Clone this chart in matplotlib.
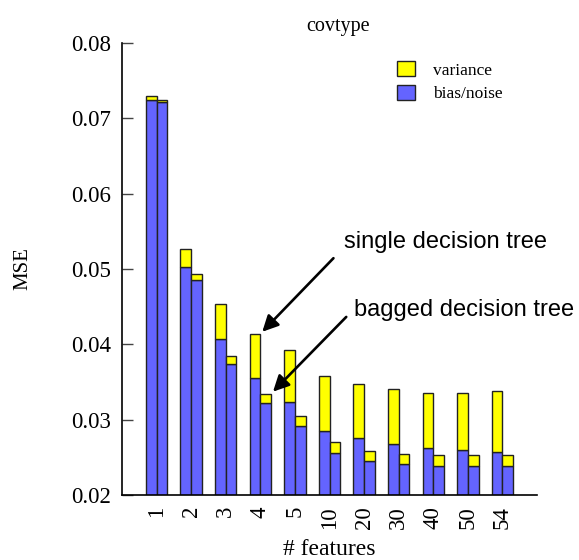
import numpy as np
import matplotlib
matplotlib.use("Agg")
import matplotlib.pyplot as plt
from matplotlib.patches import Patch

# covtype: bias/variance split of MSE vs. number of features
features = ["1", "2", "3", "4", "5", "10", "20", "30", "40", "50", "54"]

single_bias = [0.0725, 0.0502, 0.0407, 0.0355, 0.0324, 0.0285, 0.0275, 0.0268, 0.0262, 0.0260, 0.0257]
single_var = [0.0005, 0.0024, 0.0047, 0.0059, 0.0068, 0.0073, 0.0072, 0.0073, 0.0074, 0.0076, 0.0081]

bagged_bias = [0.0722, 0.0485, 0.03735, 0.0322, 0.0291, 0.0256, 0.0245, 0.0241, 0.0239, 0.0238, 0.0238]
bagged_var = [0.0002, 0.0008, 0.00115, 0.00125, 0.0014, 0.0015, 0.0014, 0.0014, 0.00145, 0.0015, 0.0015]

blue = "#6464ff"
yellow = "#ffff00"
serif = "Liberation Serif"
sans = "Liberation Sans"

fig = plt.figure(figsize=(5.79, 5.60), dpi=100)
ax = fig.add_axes([0.2107, 0.1161, 0.7168, 0.8071])

x = np.arange(len(features))
w = 0.31
edge = dict(edgecolor="#222222", linewidth=1.0)

# single tree bars (left), bagged bars (right)
ax.bar(x - w / 2, single_bias, w, color=blue, **edge)
ax.bar(x - w / 2, single_var, w, bottom=single_bias, color=yellow, **edge)
ax.bar(x + w / 2, bagged_bias, w, color=blue, **edge)
ax.bar(x + w / 2, bagged_var, w, bottom=bagged_bias, color=yellow, **edge)

ax.set_xlim(-1, 11)
ax.set_ylim(0.02, 0.08)
ax.set_yticks([0.02, 0.03, 0.04, 0.05, 0.06, 0.07, 0.08])
ax.set_yticklabels(["%.2f" % v for v in ax.get_yticks()], family=serif, fontsize=16.5)
ax.set_xticks(x)
ax.set_xticklabels(features, rotation=90, family=serif, fontsize=16.5)
ax.tick_params(axis="y", direction="in", length=8, width=1, color="#444444", pad=8)
ax.tick_params(axis="x", length=0, pad=8)

for s in ["top", "right"]:
    ax.spines[s].set_visible(False)
for s in ["left", "bottom"]:
    ax.spines[s].set_linewidth(1.2)

ax.set_title("covtype", family=serif, fontsize=14.5, pad=9, x=0.52)
ax.set_xlabel("# features", family=serif, fontsize=17, labelpad=7)
ax.set_ylabel("MSE", family=serif, fontsize=15, labelpad=28)

# legend
handles = [Patch(facecolor=yellow, edgecolor="#222222", label="variance"),
           Patch(facecolor=blue, edgecolor="#222222", label="bias/noise")]
ax.legend(handles=handles, loc="upper left", bbox_to_anchor=(0.625, 0.995),
          frameon=False, prop={"family": serif, "size": 12.5},
          handlelength=1.05, handleheight=1.0, handletextpad=1.0, labelspacing=0.35)

# arrows to the 4-feature bars
i = 3
arrow = dict(arrowstyle="-|>", color="black", lw=1.9, mutation_scale=24)
ax.annotate("", xy=(x[i], single_bias[i] + single_var[i]),
            xytext=(5.17, 0.0517), arrowprops=arrow)
ax.annotate("", xy=(x[i] + w, bagged_bias[i] + bagged_var[i]),
            xytext=(5.54, 0.0439), arrowprops=arrow)
ax.text(5.43, 0.0536, "single decision tree", family=sans, fontsize=17,
        va="center", ha="left", clip_on=False)
ax.text(5.71, 0.04456, "bagged decision tree", family=sans, fontsize=17,
        va="center", ha="left", clip_on=False)

fig.savefig("out.png", dpi=100)
